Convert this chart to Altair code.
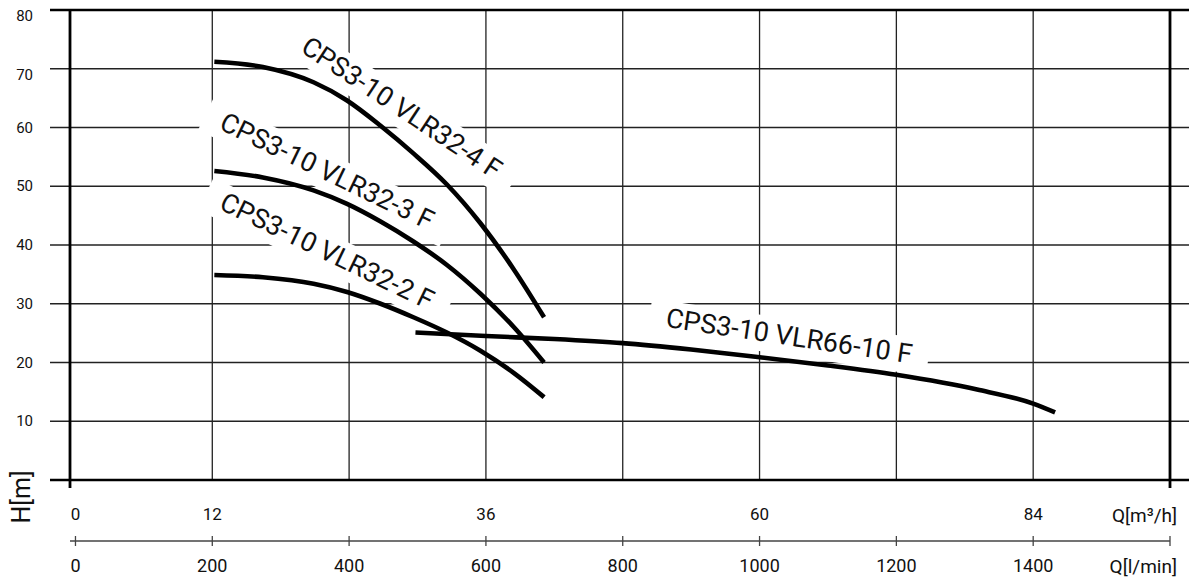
import altair as alt
import pandas as pd

# ---------------- data ----------------
# pump curves: Q in l/min, H in m
Q_32 = [203, 274, 348, 397, 446, 494, 543, 592, 641, 685]
H_32_4 = [71.2, 70.3, 67.7, 64.6, 60.3, 55.6, 50.3, 43.7, 35.8, 27.7]
H_32_3 = [52.6, 51.5, 49.3, 47.0, 44.0, 40.6, 36.6, 31.7, 26.0, 20.0]
H_32_2 = [34.9, 34.5, 33.4, 32.0, 30.0, 27.7, 25.1, 22.0, 18.2, 14.1]
Q_66 = [497, 600, 700, 800, 900, 1000, 1100, 1200, 1318, 1400, 1432]
H_66 = [25.1, 24.5, 24.0, 23.3, 22.2, 20.9, 19.5, 17.9, 15.4, 13.0, 11.5]

CURVE_NAMES = ["CPS3-10 VLR32-4 F", "CPS3-10 VLR32-3 F",
               "CPS3-10 VLR32-2 F", "CPS3-10 VLR66-10 F"]
LABEL_Q = [476, 367, 367, 1043]
LABEL_H = [63.2, 52.4, 38.8, 24.3]
LABEL_ANGLE = [33.5, 25.8, 25.8, 8.5]

H_TICKS = [10, 20, 30, 40, 50, 60, 70, 80]
H_INNER = [10, 20, 30, 40, 50, 60, 70]
H_FRAME = [0, 80]
Q_GRID = [200, 400, 600, 800, 1000, 1200, 1400]
LMIN_TICKS = [0, 200, 400, 600, 800, 1000, 1200, 1400, 1600]
LMIN_LABELS = [0, 200, 400, 600, 800, 1000, 1200, 1400]
M3H_LABELS = [0, 12, 36, 60, 84]

# ---------------- tables ----------------
rows = []
for name, qs, hs in [(CURVE_NAMES[0], Q_32, H_32_4), (CURVE_NAMES[1], Q_32, H_32_3),
                     (CURVE_NAMES[2], Q_32, H_32_2), (CURVE_NAMES[3], Q_66, H_66)]:
    for i, (q, h) in enumerate(zip(qs, hs)):
        rows.append({"name": name, "q": q, "h": h, "i": i})
curves_df = pd.DataFrame(rows)

box_rows = []
for name, q, h, a in zip(CURVE_NAMES, LABEL_Q, LABEL_H, LABEL_ANGLE):
    w = 14.0 * len(name) + 30
    hh = 36
    r = hh / w
    path = f"M-1,{-r:.4f} L1,{-r:.4f} L1,{r:.4f} L-1,{r:.4f} Z"
    box_rows.append({"name": name, "q": q, "h": h, "ang": a, "shape": path, "sz": w * w})
labels_df = pd.DataFrame(box_rows)

xs = alt.Scale(domain=[-8, 1600], nice=False, zero=False)
ys = alt.Scale(domain=[0, 80], nice=False, zero=False)
X = lambda f: alt.X(f, scale=xs, axis=None)
Y = lambda f: alt.Y(f, scale=ys, axis=None)

FONT = "Roboto"
INK = "#111111"

vgrid = alt.Chart(pd.DataFrame({"q": Q_GRID})).mark_rule(color="#222", strokeWidth=1.3).encode(
    x=X("q:Q"), y=alt.value(0), y2=alt.value(470))

hgrid = alt.Chart(pd.DataFrame({"h": H_INNER})).mark_rule(color="#222", strokeWidth=1.3).encode(
    y=Y("h:Q"), x=alt.value(-20), x2=alt.value(1119))

boxes = alt.Chart(labels_df).mark_point(filled=True, color="white", opacity=1, strokeWidth=0).encode(
    x=X("q:Q"), y=Y("h:Q"),
    shape=alt.Shape("shape:N", scale=None, legend=None),
    size=alt.Size("sz:Q", scale=None, legend=None),
    angle=alt.Angle("ang:Q", scale=None))

hframe = alt.Chart(pd.DataFrame({"h": H_FRAME})).mark_rule(color="black", strokeWidth=2.7).encode(
    y=Y("h:Q"), x=alt.value(-20), x2=alt.value(1119))

vframe_l = alt.Chart(pd.DataFrame({"k": [0]})).mark_rule(color="black", strokeWidth=2.8).encode(
    x=alt.value(0), y=alt.value(-1), y2=alt.value(478))
vframe_r = alt.Chart(pd.DataFrame({"k": [0]})).mark_rule(color="black", strokeWidth=2.8).encode(
    x=alt.value(1100), y=alt.value(-1), y2=alt.value(478))

curves = alt.Chart(curves_df).mark_line(color="black", strokeWidth=4.6, interpolate="monotone",
                                        strokeCap="butt").encode(
    x=X("q:Q"), y=Y("h:Q"), detail="name:N", order="i:Q")

curve_text = alt.Chart(labels_df).mark_text(font=FONT, fontSize=27, align="center",
                                            baseline="middle", color=INK).encode(
    x=X("q:Q"), y=Y("h:Q"), text="name:N", angle=alt.Angle("ang:Q", scale=None))

ylab_df = pd.DataFrame({"h": H_TICKS, "t": [str(v) for v in H_TICKS]})
ylab_hi = alt.Chart(ylab_df[ylab_df.h >= 70]).mark_text(font=FONT, fontSize=15, align="right",
                                                        baseline="middle", color=INK, dy=6).encode(
    x=alt.value(-37), y=Y("h:Q"), text="t:N")
ylab_lo = alt.Chart(ylab_df[ylab_df.h < 70]).mark_text(font=FONT, fontSize=15, align="right",
                                                       baseline="middle", color=INK).encode(
    x=alt.value(-37), y=Y("h:Q"), text="t:N")

ytitle = alt.Chart(pd.DataFrame({"t": ["H[m]"]})).mark_text(font=FONT, fontSize=25, angle=270,
                                                            align="center", baseline="middle",
                                                            color=INK).encode(
    x=alt.value(-48), y=alt.value(487), text="t:N")

m3h_df = pd.DataFrame({"q": [v * 1000 / 60 for v in M3H_LABELS], "t": [str(v) for v in M3H_LABELS]})
m3h = alt.Chart(m3h_df).mark_text(font=FONT, fontSize=17, align="center", baseline="middle",
                                  color=INK).encode(x=X("q:Q"), y=alt.value(505), text="t:N")
m3h_title = alt.Chart(pd.DataFrame({"t": ["Q[m³/h]"]})).mark_text(
    font=FONT, fontSize=19, align="right", baseline="middle", color=INK).encode(
    x=alt.value(1107), y=alt.value(506), text="t:N")

lmin_line = alt.Chart(pd.DataFrame({"k": [0]})).mark_rule(color="#444", strokeWidth=1.3).encode(
    x=alt.value(0), x2=alt.value(1100), y=alt.value(531))
lmin_ticks = alt.Chart(pd.DataFrame({"q": LMIN_TICKS})).mark_rule(color="#444", strokeWidth=1.3).encode(
    x=X("q:Q"), y=alt.value(526), y2=alt.value(536))
lmin_df = pd.DataFrame({"q": LMIN_LABELS, "t": [str(v) for v in LMIN_LABELS]})
lmin = alt.Chart(lmin_df).mark_text(font=FONT, fontSize=18, align="center", baseline="middle",
                                    color=INK).encode(x=X("q:Q"), y=alt.value(557), text="t:N")
lmin_title = alt.Chart(pd.DataFrame({"t": ["Q[l/min]"]})).mark_text(
    font=FONT, fontSize=19, align="right", baseline="middle", color=INK).encode(
    x=alt.value(1107), y=alt.value(557), text="t:N")

chart = alt.layer(
    vgrid, hgrid, boxes, hframe, vframe_l, vframe_r, curves, curve_text,
    ylab_hi, ylab_lo, ytitle, m3h, m3h_title, lmin_line, lmin_ticks, lmin, lmin_title
).properties(
    width=1100, height=470,
    autosize=alt.AutoSizeParams(type="none"),
    padding={"left": 70, "top": 10, "right": 19, "bottom": 101},
    background="white",
).configure_view(strokeWidth=0)

chart.save("out.html", embed_options={"renderer": "svg", "actions": False})
